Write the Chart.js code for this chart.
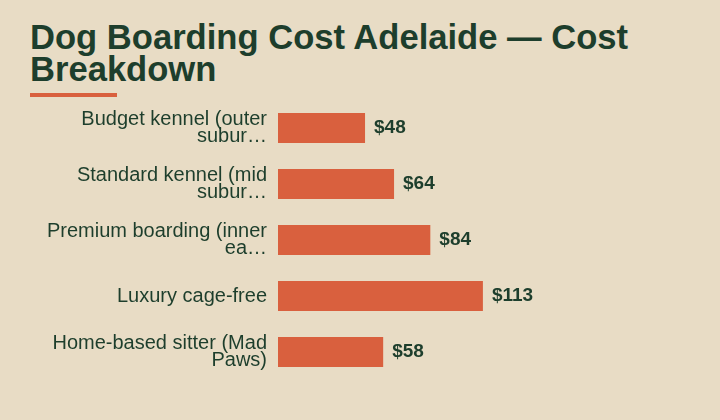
<!DOCTYPE html>
<html>
<head>
<meta charset="utf-8">
<script src="https://cdn.jsdelivr.net/npm/chart.js@4.4.1/dist/chart.umd.min.js"></script>
<style>
  html, body { margin: 0; padding: 0; }
  body { width: 720px; height: 420px; background: #e8dcc5; position: relative; overflow: hidden; font-family: "Liberation Sans", Arial, sans-serif; }
  h1 { position: absolute; left: 30px; top: 21px; width: 660px; margin: 0; font-size: 34.6px; line-height: 32.4px; font-weight: bold; color: #1d3e2c; }
  .rule { position: absolute; left: 30px; top: 93px; width: 87px; height: 4px; background: #d9603e; }
  .wrap { position: absolute; left: 0; top: 66px; width: 720px; height: 348px; }
</style>
</head>
<body>
<h1>Dog Boarding Cost Adelaide — Cost Breakdown</h1>
<div class="rule"></div>
<div class="wrap"><canvas id="chart"></canvas></div>
<script>
// categories as they appear on the axis (already wrapped / cut)
const categories = [
  ['Budget kennel (outer', 'subur…'],
  ['Standard kennel (mid', 'subur…'],
  ['Premium boarding (inner', 'ea…'],
  'Luxury cage-free',
  ['Home-based sitter (Mad', 'Paws)'],
];
const nightlyCost = [48, 64, 84, 113, 58];

const ink = '#1d3e2c';
const barColor = '#d9603e';

const valueLabels = {
  id: 'valueLabels',
  afterDatasetsDraw(chart) {
    const ctx = chart.ctx;
    const meta = chart.getDatasetMeta(0);
    ctx.save();
    ctx.font = 'bold 19px "Liberation Sans", Arial, sans-serif';
    ctx.fillStyle = ink;
    ctx.textAlign = 'left';
    ctx.textBaseline = 'middle';
    meta.data.forEach((bar, i) => {
      ctx.fillText('$' + nightlyCost[i], bar.x + 9, bar.y);
    });
    ctx.restore();
  },
};

new Chart(document.getElementById('chart'), {
  type: 'bar',
  data: {
    labels: categories,
    datasets: [{
      data: nightlyCost,
      backgroundColor: barColor,
      borderWidth: 0,
      barPercentage: 0.54,
      categoryPercentage: 1,
    }],
  },
  options: {
    indexAxis: 'y',
    responsive: true,
    maintainAspectRatio: false,
    animation: false,
    layout: { padding: { top: 34, bottom: 34, left: 0, right: 170 } },
    plugins: { legend: { display: false }, tooltip: { enabled: false } },
    scales: {
      x: { display: false, min: 0, max: 150 },
      y: {
        grid: { display: false, drawTicks: false },
        border: { display: false },
        afterFit: (scale) => { scale.width = 278; },
        ticks: {
          padding: 11,
          color: ink,
          font: { family: '"Liberation Sans", Arial, sans-serif', size: 20, lineHeight: 0.88 },
        },
      },
    },
  },
  plugins: [valueLabels],
});
</script>
</body>
</html>
